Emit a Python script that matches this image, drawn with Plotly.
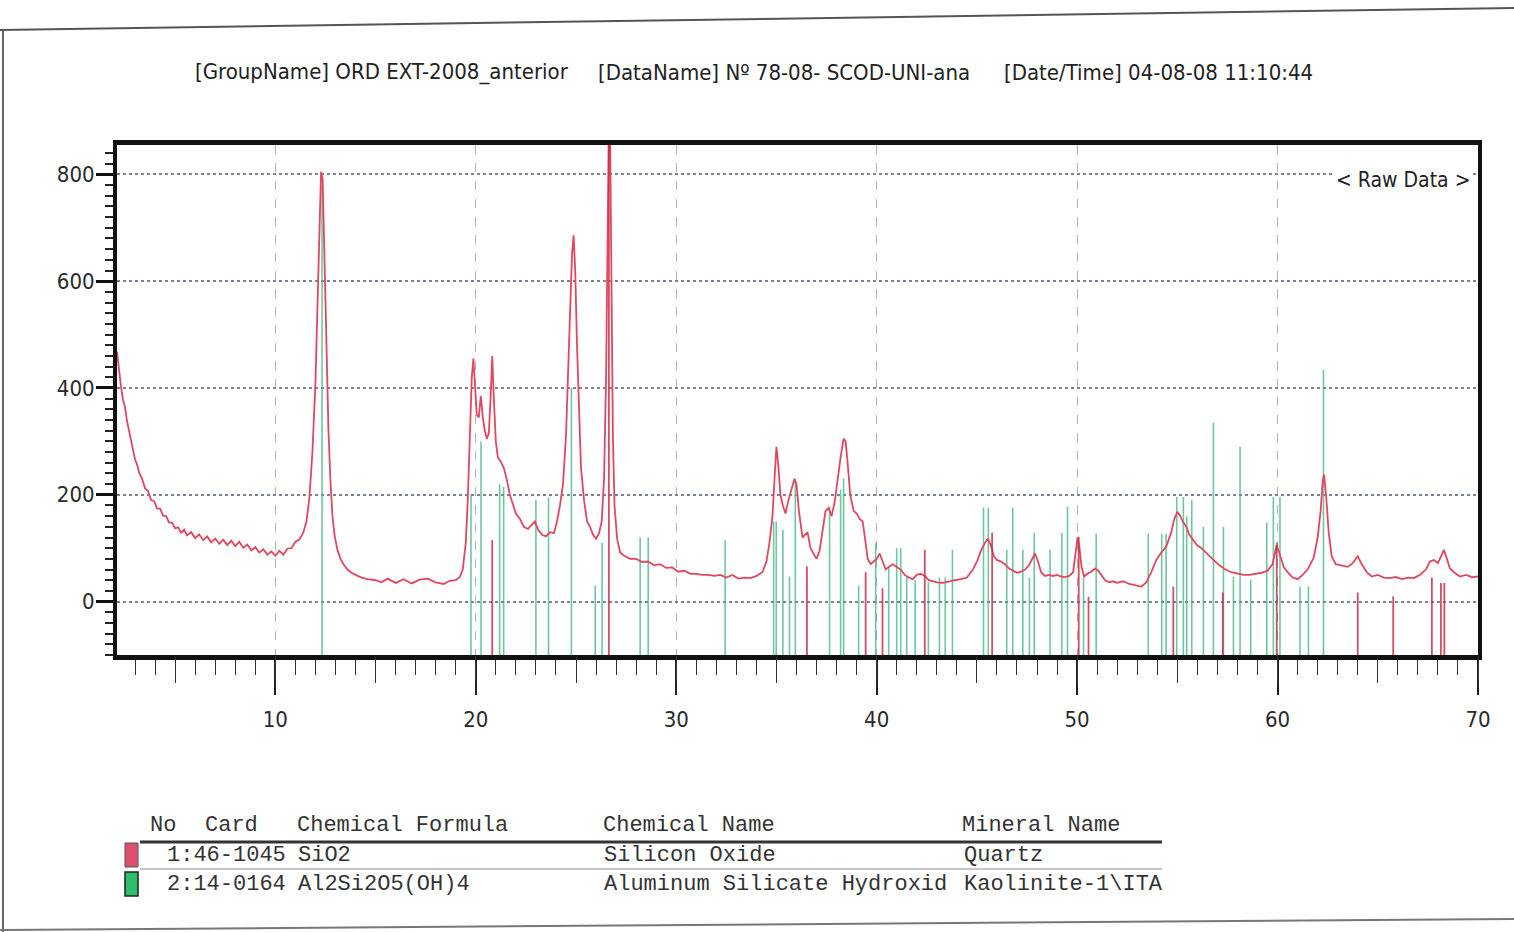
import plotly.graph_objects as go

# ---------------- data ----------------
raw_2theta = [2.1,2.2,2.3,2.4,2.5,2.6,2.7,2.8,2.9,3.0,3.1,3.2,3.35,3.5,3.65,3.8,3.95,4.1,4.25,4.4,4.55,4.7,4.85,5.0,5.15,5.3,5.45,5.6,5.8,6.0,6.2,6.4,6.6,6.8,7.0,7.2,7.4,7.6,7.8,8.0,8.2,8.4,8.6,8.8,9.0,9.2,9.4,9.6,9.8,10.0,10.2,10.4,10.6,10.8,11.0,11.2,11.4,11.55,11.7,11.85,12.0,12.1,12.2,12.28,12.36,12.45,12.55,12.65,12.75,12.85,12.95,13.1,13.25,13.4,13.6,13.8,14.0,14.3,14.6,15.0,15.3,15.6,16.0,16.4,16.8,17.2,17.6,18.0,18.4,18.7,19.0,19.2,19.35,19.5,19.6,19.7,19.8,19.88,19.95,20.05,20.15,20.25,20.35,20.45,20.55,20.65,20.75,20.82,20.9,21.0,21.1,21.25,21.4,21.55,21.7,21.85,22.0,22.2,22.4,22.6,22.8,22.95,23.1,23.3,23.5,23.7,23.9,24.05,24.2,24.35,24.5,24.6,24.7,24.8,24.88,24.96,25.05,25.15,25.25,25.4,25.55,25.7,25.85,26.0,26.15,26.28,26.4,26.5,26.58,26.64,26.7,26.76,26.84,26.92,27.05,27.2,27.4,27.7,28.0,28.3,28.6,28.9,29.2,29.5,29.8,30.1,30.4,30.7,31.0,31.3,31.6,31.9,32.2,32.5,32.8,33.1,33.4,33.7,34.0,34.3,34.5,34.65,34.8,34.92,35.0,35.08,35.2,35.32,35.45,35.6,35.75,35.9,36.0,36.12,36.3,36.45,36.55,36.7,36.85,37.0,37.15,37.3,37.45,37.6,37.75,37.9,38.05,38.2,38.35,38.45,38.55,38.68,38.85,39.0,39.15,39.3,39.45,39.55,39.7,39.85,40.0,40.15,40.3,40.45,40.6,40.8,41.0,41.2,41.4,41.6,41.8,42.0,42.2,42.4,42.6,42.8,43.0,43.3,43.6,43.9,44.2,44.5,44.8,45.0,45.2,45.4,45.55,45.7,45.85,46.0,46.2,46.4,46.6,46.8,47.0,47.2,47.4,47.6,47.75,47.9,48.05,48.2,48.4,48.6,48.8,49.0,49.2,49.4,49.6,49.8,49.92,50.02,50.12,50.22,50.35,50.5,50.7,50.9,51.05,51.2,51.4,51.6,51.8,52.0,52.3,52.6,52.9,53.2,53.45,53.7,53.95,54.2,54.45,54.7,54.85,55.0,55.15,55.3,55.45,55.6,55.8,56.0,56.2,56.5,56.8,57.1,57.4,57.7,58.0,58.3,58.6,58.9,59.2,59.5,59.75,59.95,60.1,60.3,60.5,60.75,61.0,61.25,61.5,61.8,62.0,62.15,62.25,62.32,62.42,62.55,62.7,62.9,63.2,63.5,63.75,64.0,64.2,64.45,64.7,65.0,65.3,65.6,65.9,66.2,66.5,66.8,67.1,67.4,67.6,67.8,68.0,68.2,68.3,68.45,68.6,68.8,69.1,69.4,69.7,70.0]
raw_counts = [468,432,402,378,364,338,320,298,285,266,257,242,230,212,207,190,188,174,174,161,160,148,148,137,139,129,135,124,130,119,126,115,122,111,118,108,116,106,114,104,112,101,107,96,102,92,98,88,94,86,95,88,99,100,112,116,130,150,195,280,410,560,740,805,790,640,450,320,225,160,125,96,80,70,60,54,50,45,42,40,36,43,35,42,34,41,43,36,33,39,40,46,60,110,190,300,420,455,400,350,345,385,345,320,305,315,390,460,380,300,270,262,250,228,200,180,165,155,140,136,145,150,135,125,122,130,128,150,180,220,310,420,550,650,686,620,480,340,250,190,150,140,125,118,128,150,230,420,700,900,880,560,310,180,118,92,86,80,80,74,75,68,70,63,64,56,58,52,52,50,50,48,50,45,50,43,45,44,48,55,75,110,160,240,290,260,200,180,165,190,210,230,220,170,120,125,130,100,90,80,95,130,170,175,160,185,230,270,305,300,260,200,170,165,155,150,110,80,70,75,80,90,75,60,65,70,65,60,50,45,42,50,52,48,40,38,36,35,38,40,42,45,60,75,95,110,118,105,85,78,75,70,62,58,54,56,60,68,78,90,75,55,48,50,48,50,47,46,48,55,90,120,100,65,47,52,56,62,58,50,40,36,38,35,38,33,30,28,36,55,78,92,103,130,155,168,160,148,140,125,115,105,100,88,78,68,60,55,52,50,50,52,54,58,70,105,90,65,55,45,42,50,60,82,120,170,225,238,200,130,85,70,68,65,72,85,70,55,47,50,45,44,46,42,45,44,50,60,75,78,72,90,97,80,62,55,47,50,46,47]

# Kaolinite-1\ITA (card 14-0164) stick positions / heights
kaol_2theta = [12.33,19.76,20.26,21.19,21.39,23.0,23.63,24.77,25.96,26.3,28.2,28.6,32.44,34.86,34.99,35.32,35.65,35.94,37.65,38.2,38.35,39.1,39.95,40.6,41.0,41.2,41.5,41.92,42.58,43.13,43.42,43.78,45.33,45.57,46.49,46.79,47.29,47.62,47.86,48.65,49.24,49.52,50.32,50.95,53.55,54.22,54.44,54.97,55.3,55.47,55.72,56.3,56.8,57.3,57.8,58.13,58.66,59.46,59.79,60.12,61.12,61.54,62.29]
kaol_height = [780,200,300,220,215,190,195,400,30,110,120,120,115,150,150,134,47,230,178,210,230,30,110,66,100,100,47,41,36,45,45,97,176,176,97,176,97,45,129,97,129,178,45,127,127,127,127,196,196,160,190,140,335,140,47,290,41,148,196,196,28,28,434]

# Quartz (card 46-1045) stick positions / heights
quartz_2theta = [20.82,26.64,36.52,39.45,40.29,42.4,45.76,50.08,50.57,54.8,57.27,59.96,64.0,65.77,67.7,68.15,68.32]
quartz_height = [115,900,66,55,25,97,129,121,9,28,17,110,17,10,45,35,35]

y_base = -100
x_range = [2.1, 70]
y_range = [-100, 855]
y_ticks = [0, 200, 400, 600, 800]
x_ticks = [10, 20, 30, 40, 50, 60, 70]

title_parts = ["[GroupName] ORD EXT-2008_anterior",
               "[DataName] Nº 78-08- SCOD-UNI-ana",
               "[Date/Time] 04-08-08 11:10:44"]

table_header = ["No", "Card", "Chemical Formula", "Chemical Name", "Mineral Name"]
table_rows = [["1:46-1045", "SiO2", "Silicon Oxide", "Quartz"],
              ["2:14-0164", "Al2Si2O5(OH)4", "Aluminum Silicate Hydroxid", "Kaolinite-1\\ITA"]]

# ---------------- layout geometry (pixels) ----------------
W, H = 1514, 932
L, R, T, B = 117, 1478, 145, 655


def px(x):
    return (x - L) / (R - L)


def py(y):
    return (B - y) / (B - T)


def sticks(xs, hs):
    X, Y = [], []
    for x, h in zip(xs, hs):
        X += [x, x, None]
        Y += [y_base, h, None]
    return X, Y


fig = go.Figure()
kx, ky = sticks(kaol_2theta, kaol_height)
fig.add_trace(go.Scatter(x=kx, y=ky, mode="lines",
                         line=dict(color="rgba(60,180,130,0.75)", width=1.6),
                         hoverinfo="skip", showlegend=False))
fig.add_trace(go.Scatter(x=raw_2theta, y=raw_counts, mode="lines",
                         line=dict(color="#e2475f", width=1.8),
                         showlegend=False, name="Raw Data"))
qx, qy = sticks(quartz_2theta, quartz_height)
fig.add_trace(go.Scatter(x=qx, y=qy, mode="lines",
                         line=dict(color="rgba(205,45,75,0.85)", width=1.8),
                         hoverinfo="skip", showlegend=False))
# invisible trace for 5-degree medium ticks
fig.add_trace(go.Scatter(x=[x_range[0]], y=[0], xaxis="x2", mode="markers",
                         marker=dict(opacity=0), hoverinfo="skip", showlegend=False))

cond = "DejaVu Sans Condensed, Liberation Sans Narrow, Roboto, sans-serif"
tick_font = dict(family=cond, size=22, color="#2a2a2a")

fig.update_layout(
    width=W, height=H,
    margin=dict(l=L, r=W - R, t=T, b=H - B),
    paper_bgcolor="white", plot_bgcolor="white",
    xaxis=dict(range=x_range, tickvals=x_ticks, ticks="outside", ticklen=35,
               tickwidth=1.5, tickcolor="#222", tickfont=tick_font,
               ticklabelstandoff=6,
               showline=True, linewidth=5, linecolor="#111", mirror=True,
               showgrid=True, gridcolor="#b4b4b4", griddash="dash", gridwidth=1.2,
               zeroline=False,
               minor=dict(dtick=1, tick0=0, ticks="outside", ticklen=15,
                          tickwidth=1.2, tickcolor="#333", showgrid=False)),
    xaxis2=dict(range=x_range, overlaying="x", anchor="y", side="bottom",
                tickmode="linear", tick0=0, dtick=5, ticks="outside", ticklen=27,
                tickwidth=1.3, tickcolor="#333", showticklabels=False,
                showgrid=False, showline=False, zeroline=False),
    yaxis=dict(range=y_range, tickvals=y_ticks, ticks="outside", ticklen=17,
               tickwidth=2.5, tickcolor="#111", tickfont=tick_font,
               ticklabelstandoff=-3,
               showline=True, linewidth=4, linecolor="#111", mirror=True,
               showgrid=True, gridcolor="#7a8496", griddash="dot", gridwidth=1.5,
               zeroline=False,
               minor=dict(dtick=20, tick0=0, ticks="outside", ticklen=8,
                          tickwidth=1.5, tickcolor="#222", showgrid=False)),
    showlegend=False,
)

ann = []
title_font = dict(family=cond, size=22, color="#222")
for text, x0 in zip(title_parts, [193, 596, 1002]):
    ann.append(dict(x=px(x0), y=py(72), xref="paper", yref="paper", text=text,
                    showarrow=False, xanchor="left", yanchor="middle", font=title_font))
ann.append(dict(x=px(1472), y=py(180), xref="paper", yref="paper", text="< Raw Data >",
                showarrow=False, xanchor="right", yanchor="middle", bgcolor="white",
                font=dict(family=cond, size=21, color="#222")))

mono = dict(family="Liberation Mono, DejaVu Sans Mono, monospace", size=22, color="#333")
for text, x0 in zip(table_header, [148, 203, 295, 601, 960]):
    ann.append(dict(x=px(x0), y=py(825), xref="paper", yref="paper", text=text,
                    showarrow=False, xanchor="left", yanchor="middle", font=mono))
for row, yy in zip(table_rows, [855, 884]):
    for text, x0 in zip(row, [165, 296, 602, 962]):
        ann.append(dict(x=px(x0), y=py(yy), xref="paper", yref="paper", text=text,
                        showarrow=False, xanchor="left", yanchor="middle", font=mono))
fig.update_layout(annotations=ann)

shapes = [
    # table rules
    dict(type="line", xref="paper", yref="paper", x0=px(140), x1=px(1162), y0=py(842), y1=py(842),
         line=dict(color="#333", width=3)),
    dict(type="line", xref="paper", yref="paper", x0=px(140), x1=px(1162), y0=py(869), y1=py(869),
         line=dict(color="#c4c4c4", width=2)),
    # colour keys
    dict(type="rect", xref="paper", yref="paper", x0=px(125), x1=px(138), y0=py(867), y1=py(843),
         fillcolor="#e0506e", line=dict(color="#555", width=1)),
    dict(type="rect", xref="paper", yref="paper", x0=px(125), x1=px(138), y0=py(896), y1=py(872),
         fillcolor="#2fbf6a", line=dict(color="#222", width=1.5)),
    # scanned page border
    dict(type="line", xref="paper", yref="paper", x0=px(0), x1=px(1514), y0=py(30), y1=py(8),
         line=dict(color="#555", width=2)),
    dict(type="line", xref="paper", yref="paper", x0=px(3), x1=px(3), y0=py(30), y1=py(932),
         line=dict(color="#666", width=2)),
    dict(type="line", xref="paper", yref="paper", x0=px(0), x1=px(1514), y0=py(930), y1=py(919),
         line=dict(color="#777", width=2)),
]
fig.update_layout(shapes=shapes)

fig.write_html("out.html")
